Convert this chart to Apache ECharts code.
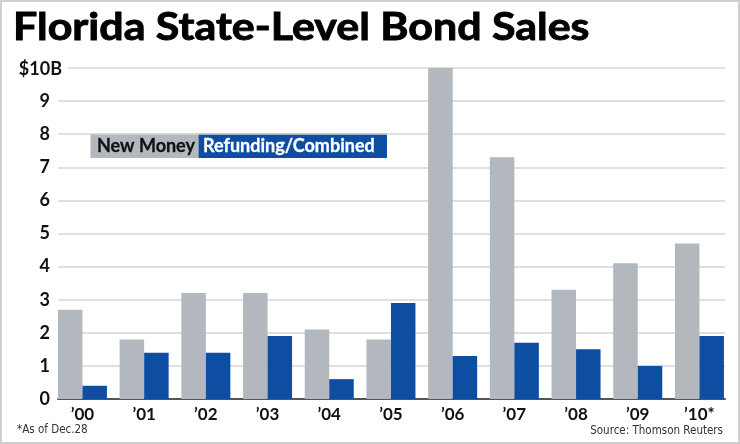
<!DOCTYPE html>
<html><head><meta charset="utf-8">
<script src="https://cdn.jsdelivr.net/npm/echarts@6/dist/echarts.min.js"></script>
<style>
html,body{margin:0;padding:0;background:#fff;}
#wrap{position:absolute;left:0;top:0;width:740px;height:444px;box-sizing:border-box;border:2px solid #cfcfcf;}
#c{position:absolute;left:0;top:0;width:740px;height:444px;}
</style></head><body>
<div id="wrap"></div>
<div id="c"></div>
<script>
const categories = ["\u201900","\u201901","\u201902","\u201903","\u201904","\u201905","\u201906","\u201907","\u201908","\u201909","\u201910*"];
const newMoney = [2.7, 1.8, 3.2, 3.2, 2.1, 1.8, 10.0, 7.3, 3.3, 4.1, 4.7];
const refunding = [0.4, 1.4, 1.4, 1.9, 0.6, 2.9, 1.3, 1.7, 1.5, 1.0, 1.9];
const yTicks = ["0","1","2","3","4","5","6","7","8","9","$10B"];
const titleText = "Florida State-Level Bond Sales";
const legendNames = ["New Money", "Refunding/Combined"];
const noteText = "*As of Dec.28";
const sourceText = "Source: Thomson Reuters";

const GRAY = "#b2b8bd", BLUE = "#0d4ea3";
const FONT = "Lato";
const SMALL = '"DejaVu Sans Condensed", "Liberation Sans", sans-serif';
const chart = echarts.init(document.getElementById('c'), null, {renderer:'canvas'});
chart.setOption({
  animation:false,
  grid:[
    {left:51.6, width:678.7, top:68, bottom:45},
    {left:58, right:15, top:68, bottom:45}
  ],
  xAxis:[
    {type:'category', gridIndex:0, data:categories,
     axisLine:{show:false}, axisTick:{show:false},
     axisLabel:{color:'#111', fontFamily:FONT, fontWeight:'bold', fontSize:17, margin:7}},
    {type:'value', gridIndex:1, min:0, max:1, show:true,
     axisLine:{show:true, lineStyle:{color:'#555', width:2}}, axisTick:{show:false},
     axisLabel:{show:false}, splitLine:{show:false}}
  ],
  yAxis:[
    {type:'value', gridIndex:0, min:0, max:10, interval:1, show:false},
    {type:'value', gridIndex:1, min:0, max:10, interval:1,
     axisLine:{show:false}, axisTick:{show:false},
     splitLine:{show:true, lineStyle:{color:'#d6d6d6', width:1.5}},
     axisLabel:{margin:-10,
       formatter:(v)=>{const t=yTicks[Math.round(v)]; return v>=10?'{big|'+t+'}':'{n|'+t+'}';},
       rich:{
         n:{fontFamily:FONT, fontWeight:'bold', fontSize:18, color:'#111', padding:[0,18,0,0]},
         big:{fontFamily:FONT, fontWeight:'bold', fontSize:18, color:'#111', backgroundColor:'#fff', padding:[2,6,0,2]}
       }}}
  ],
  series:[
    {type:'bar', name:legendNames[0], xAxisIndex:0, yAxisIndex:0, data:newMoney,
     itemStyle:{color:GRAY}, barWidth:24.5, barGap:'0%'},
    {type:'bar', name:legendNames[1], xAxisIndex:0, yAxisIndex:0, data:refunding,
     itemStyle:{color:BLUE}, barWidth:24.5, barGap:'0%'}
  ],
  graphic:[
    {type:'text', x:15, y:9, scaleX:1.13, originX:15, style:{text:titleText, font:'bold 38px '+FONT, fill:'#000', stroke:'#000', lineWidth:0.9, verticalAlign:'top'}},
    {type:'rect', shape:{x:90.5, y:133.5, width:108, height:24.5}, style:{fill:GRAY}},
    {type:'rect', shape:{x:198.5, y:133.5, width:188.5, height:24.5}, style:{fill:BLUE}},
    {type:'text', x:97, y:146.5, style:{text:legendNames[0], font:'bold 18px '+FONT, fill:'#111', stroke:'#111', lineWidth:0.3, verticalAlign:'middle'}},
    {type:'text', x:203, y:146.5, style:{text:legendNames[1], font:'bold 18px '+FONT, fill:'#fff', stroke:'#fff', lineWidth:0.3, verticalAlign:'middle'}},
    {type:'text', x:17, y:430, style:{text:noteText, font:'11.5px '+SMALL, fill:'#333', verticalAlign:'middle'}},
    {type:'text', x:723, y:431, style:{text:sourceText, font:'11.5px '+SMALL, fill:'#333', align:'right', verticalAlign:'middle'}}
  ]
});
</script></body></html>
